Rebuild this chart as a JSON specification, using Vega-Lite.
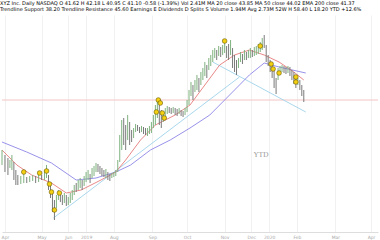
{
  "$schema": "https://vega.github.io/schema/vega-lite/v6.json",
  "width": 380,
  "height": 240,
  "autosize": {"type": "fit", "contains": "padding"},
  "padding": {"left": 0, "right": 0, "top": 1, "bottom": 1},
  "background": "white",
  "config": {"view": {"stroke": null}},
  "title": {
    "text": [
      "XYZ Inc. Daily  NASDAQ  O 41.62  H 42.18  L 40.95  C 41.10  -0.58 (-1.39%)  Vol 2.41M  MA 20 close 43.85  MA 50 close 44.02  EMA 200 close 41.37",
      "Trendline Support 38.20  Trendline Resistance 45.60  Earnings  E  Dividends  D  Splits  S  Volume 1.94M  Avg 2.73M  52W H 58.40  L 18.20  YTD +12.6%"
    ],
    "font": "DejaVu Sans",
    "fontSize": 5,
    "fontWeight": "normal",
    "lineHeight": 6,
    "color": "#000000",
    "anchor": "start",
    "offset": 3
  },
  "datasets": {
    "candles": [
      {"t": 0, "hi": 82, "lo": 67, "u": 1}, {"t": 3, "hi": 77, "lo": 60, "u": 0}, {"t": 6, "hi": 74, "lo": 57, "u": 0},
      {"t": 8, "hi": 72, "lo": 64, "u": 1}, {"t": 10, "hi": 77, "lo": 62, "u": 1}, {"t": 12, "hi": 70, "lo": 52, "u": 0},
      {"t": 14, "hi": 62, "lo": 47, "u": 0}, {"t": 16, "hi": 57, "lo": 47, "u": 0}, {"t": 19, "hi": 56, "lo": 48, "u": 1},
      {"t": 22, "hi": 58, "lo": 49, "u": 1}, {"t": 25, "hi": 55, "lo": 49, "u": 0}, {"t": 28, "hi": 56, "lo": 50, "u": 1},
      {"t": 31, "hi": 57, "lo": 51, "u": 1}, {"t": 34, "hi": 56, "lo": 49, "u": 0}, {"t": 37, "hi": 58, "lo": 50, "u": 1},
      {"t": 40, "hi": 57, "lo": 52, "u": 0}, {"t": 43, "hi": 62, "lo": 52, "u": 1}, {"t": 45, "hi": 67, "lo": 54, "u": 1},
      {"t": 47, "hi": 57, "lo": 42, "u": 0}, {"t": 49, "hi": 49, "lo": 34, "u": 0}, {"t": 51, "hi": 42, "lo": 20, "u": 0},
      {"t": 53, "hi": 32, "lo": 12, "u": 0}, {"t": 55, "hi": 37, "lo": 24, "u": 1}, {"t": 57, "hi": 42, "lo": 32, "u": 1},
      {"t": 59, "hi": 40, "lo": 30, "u": 0}, {"t": 61, "hi": 37, "lo": 27, "u": 0}, {"t": 63, "hi": 39, "lo": 29, "u": 1},
      {"t": 65, "hi": 37, "lo": 26, "u": 0}, {"t": 67, "hi": 35, "lo": 27, "u": 1}, {"t": 69, "hi": 39, "lo": 29, "u": 1},
      {"t": 71, "hi": 42, "lo": 32, "u": 1}, {"t": 73, "hi": 47, "lo": 37, "u": 1}, {"t": 75, "hi": 49, "lo": 40, "u": 0},
      {"t": 77, "hi": 52, "lo": 42, "u": 1}, {"t": 79, "hi": 54, "lo": 44, "u": 1}, {"t": 81, "hi": 52, "lo": 42, "u": 0},
      {"t": 83, "hi": 56, "lo": 46, "u": 1}, {"t": 85, "hi": 60, "lo": 50, "u": 1}, {"t": 87, "hi": 62, "lo": 52, "u": 1},
      {"t": 89, "hi": 58, "lo": 49, "u": 0}, {"t": 91, "hi": 64, "lo": 54, "u": 1}, {"t": 93, "hi": 66, "lo": 56, "u": 1},
      {"t": 95, "hi": 69, "lo": 60, "u": 1}, {"t": 97, "hi": 68, "lo": 60, "u": 0}, {"t": 99, "hi": 66, "lo": 58, "u": 0},
      {"t": 101, "hi": 64, "lo": 56, "u": 0}, {"t": 103, "hi": 62, "lo": 55, "u": 0}, {"t": 105, "hi": 63, "lo": 54, "u": 1},
      {"t": 107, "hi": 60, "lo": 52, "u": 0}, {"t": 109, "hi": 58, "lo": 51, "u": 0}, {"t": 111, "hi": 59, "lo": 54, "u": 1},
      {"t": 113, "hi": 60, "lo": 55, "u": 1}, {"t": 115, "hi": 62, "lo": 56, "u": 1}, {"t": 117, "hi": 72, "lo": 60, "u": 1},
      {"t": 119, "hi": 97, "lo": 70, "u": 1}, {"t": 121, "hi": 112, "lo": 82, "u": 1}, {"t": 123, "hi": 114, "lo": 87, "u": 0},
      {"t": 125, "hi": 107, "lo": 82, "u": 0}, {"t": 127, "hi": 117, "lo": 92, "u": 1}, {"t": 129, "hi": 110, "lo": 87, "u": 0},
      {"t": 131, "hi": 102, "lo": 90, "u": 0}, {"t": 133, "hi": 104, "lo": 94, "u": 1}, {"t": 135, "hi": 108, "lo": 100, "u": 1},
      {"t": 137, "hi": 107, "lo": 101, "u": 0}, {"t": 139, "hi": 105, "lo": 99, "u": 0}, {"t": 141, "hi": 106, "lo": 100, "u": 1},
      {"t": 143, "hi": 105, "lo": 98, "u": 0}, {"t": 145, "hi": 104, "lo": 97, "u": 0}, {"t": 147, "hi": 104, "lo": 96, "u": 1},
      {"t": 149, "hi": 106, "lo": 98, "u": 1}, {"t": 151, "hi": 110, "lo": 99, "u": 1}, {"t": 153, "hi": 117, "lo": 104, "u": 1},
      {"t": 155, "hi": 127, "lo": 107, "u": 1}, {"t": 157, "hi": 132, "lo": 114, "u": 1}, {"t": 159, "hi": 127, "lo": 107, "u": 0},
      {"t": 161, "hi": 122, "lo": 104, "u": 0}, {"t": 163, "hi": 120, "lo": 110, "u": 1}, {"t": 165, "hi": 124, "lo": 114, "u": 1},
      {"t": 167, "hi": 126, "lo": 118, "u": 1}, {"t": 169, "hi": 125, "lo": 119, "u": 0}, {"t": 171, "hi": 124, "lo": 118, "u": 0},
      {"t": 173, "hi": 125, "lo": 119, "u": 1}, {"t": 175, "hi": 124, "lo": 117, "u": 0}, {"t": 177, "hi": 123, "lo": 116, "u": 0},
      {"t": 179, "hi": 124, "lo": 118, "u": 1}, {"t": 181, "hi": 122, "lo": 116, "u": 0}, {"t": 183, "hi": 121, "lo": 115, "u": 0},
      {"t": 185, "hi": 124, "lo": 117, "u": 1}, {"t": 187, "hi": 132, "lo": 120, "u": 1}, {"t": 189, "hi": 142, "lo": 127, "u": 1},
      {"t": 191, "hi": 150, "lo": 136, "u": 1}, {"t": 193, "hi": 147, "lo": 132, "u": 0}, {"t": 195, "hi": 152, "lo": 140, "u": 1},
      {"t": 197, "hi": 157, "lo": 142, "u": 1}, {"t": 199, "hi": 154, "lo": 140, "u": 0}, {"t": 201, "hi": 160, "lo": 147, "u": 1},
      {"t": 203, "hi": 164, "lo": 152, "u": 1}, {"t": 205, "hi": 170, "lo": 156, "u": 1}, {"t": 207, "hi": 167, "lo": 154, "u": 0},
      {"t": 209, "hi": 174, "lo": 162, "u": 1}, {"t": 211, "hi": 177, "lo": 166, "u": 1}, {"t": 213, "hi": 182, "lo": 170, "u": 1},
      {"t": 215, "hi": 184, "lo": 174, "u": 1}, {"t": 217, "hi": 182, "lo": 172, "u": 0}, {"t": 219, "hi": 186, "lo": 176, "u": 1},
      {"t": 221, "hi": 185, "lo": 175, "u": 0}, {"t": 223, "hi": 187, "lo": 177, "u": 1}, {"t": 225, "hi": 189, "lo": 179, "u": 1},
      {"t": 227, "hi": 186, "lo": 174, "u": 0}, {"t": 229, "hi": 188, "lo": 172, "u": 0}, {"t": 231, "hi": 192, "lo": 177, "u": 1},
      {"t": 233, "hi": 184, "lo": 164, "u": 0}, {"t": 235, "hi": 177, "lo": 160, "u": 0}, {"t": 237, "hi": 172, "lo": 157, "u": 0},
      {"t": 239, "hi": 174, "lo": 164, "u": 1}, {"t": 241, "hi": 180, "lo": 170, "u": 1}, {"t": 243, "hi": 178, "lo": 168, "u": 0},
      {"t": 245, "hi": 182, "lo": 172, "u": 1}, {"t": 247, "hi": 180, "lo": 172, "u": 0}, {"t": 249, "hi": 182, "lo": 174, "u": 1},
      {"t": 251, "hi": 184, "lo": 174, "u": 1}, {"t": 253, "hi": 182, "lo": 175, "u": 0}, {"t": 255, "hi": 185, "lo": 176, "u": 1},
      {"t": 257, "hi": 186, "lo": 177, "u": 1}, {"t": 259, "hi": 188, "lo": 178, "u": 1}, {"t": 261, "hi": 190, "lo": 180, "u": 1},
      {"t": 263, "hi": 194, "lo": 182, "u": 1}, {"t": 265, "hi": 197, "lo": 184, "u": 0}, {"t": 267, "hi": 187, "lo": 170, "u": 0},
      {"t": 269, "hi": 177, "lo": 166, "u": 0}, {"t": 271, "hi": 172, "lo": 160, "u": 0}, {"t": 273, "hi": 170, "lo": 154, "u": 0},
      {"t": 275, "hi": 162, "lo": 144, "u": 0}, {"t": 277, "hi": 154, "lo": 138, "u": 0}, {"t": 279, "hi": 164, "lo": 152, "u": 1},
      {"t": 281, "hi": 166, "lo": 158, "u": 1}, {"t": 283, "hi": 167, "lo": 160, "u": 1}, {"t": 285, "hi": 166, "lo": 159, "u": 0},
      {"t": 287, "hi": 165, "lo": 158, "u": 0}, {"t": 289, "hi": 166, "lo": 159, "u": 1}, {"t": 291, "hi": 165, "lo": 156, "u": 0},
      {"t": 293, "hi": 162, "lo": 152, "u": 0}, {"t": 295, "hi": 160, "lo": 148, "u": 0}, {"t": 297, "hi": 157, "lo": 144, "u": 0},
      {"t": 299, "hi": 154, "lo": 147, "u": 1}, {"t": 301, "hi": 152, "lo": 142, "u": 0}, {"t": 303, "hi": 147, "lo": 136, "u": 0},
      {"t": 305, "hi": 142, "lo": 130, "u": 0}
    ],
    "lines": [
      {"s": "ma20", "t": 0, "p": 82}, {"s": "ma20", "t": 15, "p": 67}, {"s": "ma20", "t": 30, "p": 57}, {"s": "ma20", "t": 50, "p": 49},
      {"s": "ma20", "t": 65, "p": 39}, {"s": "ma20", "t": 80, "p": 42}, {"s": "ma20", "t": 100, "p": 52}, {"s": "ma20", "t": 115, "p": 60},
      {"s": "ma20", "t": 125, "p": 72}, {"s": "ma20", "t": 140, "p": 92}, {"s": "ma20", "t": 155, "p": 107}, {"s": "ma20", "t": 175, "p": 117},
      {"s": "ma20", "t": 190, "p": 127}, {"s": "ma20", "t": 205, "p": 147}, {"s": "ma20", "t": 220, "p": 167}, {"s": "ma20", "t": 235, "p": 177},
      {"s": "ma20", "t": 250, "p": 182}, {"s": "ma20", "t": 265, "p": 177}, {"s": "ma20", "t": 280, "p": 170}, {"s": "ma20", "t": 295, "p": 160},
      {"s": "ma20", "t": 305, "p": 152},
      {"s": "ma200", "t": 0, "p": 90}, {"s": "ma200", "t": 25, "p": 80}, {"s": "ma200", "t": 50, "p": 69}, {"s": "ma200", "t": 75, "p": 52},
      {"s": "ma200", "t": 95, "p": 54}, {"s": "ma200", "t": 115, "p": 60}, {"s": "ma200", "t": 130, "p": 67}, {"s": "ma200", "t": 150, "p": 82},
      {"s": "ma200", "t": 170, "p": 92}, {"s": "ma200", "t": 190, "p": 104}, {"s": "ma200", "t": 210, "p": 117}, {"s": "ma200", "t": 230, "p": 137},
      {"s": "ma200", "t": 250, "p": 157}, {"s": "ma200", "t": 265, "p": 169}, {"s": "ma200", "t": 280, "p": 165}, {"s": "ma200", "t": 307, "p": 159},
      {"s": "up", "t": 52, "p": 14}, {"s": "up", "t": 240, "p": 155},
      {"s": "down", "t": 213, "p": 170}, {"s": "down", "t": 307, "p": 120},
      {"s": "level", "t": 0, "p": 132}, {"s": "level", "t": 380, "p": 132}
    ],
    "events": [
      {"t": 22, "p": 60}, {"t": 38, "p": 59}, {"t": 45, "p": 61}, {"t": 48, "p": 48}, {"t": 50, "p": 40},
      {"t": 58, "p": 39}, {"t": 53, "p": 22}, {"t": 158, "p": 132}, {"t": 160, "p": 129}, {"t": 156, "p": 120},
      {"t": 162, "p": 119}, {"t": 164, "p": 114}, {"t": 225, "p": 191}, {"t": 261, "p": 186}, {"t": 272, "p": 168},
      {"t": 274, "p": 163}, {"t": 280, "p": 159}, {"t": 297, "p": 155}, {"t": 297, "p": 150}
    ],
    "notes": [{"t": 262, "p": 77, "label": "YTD"}]
  },
  "encoding": {
    "x": {
      "field": "t",
      "type": "quantitative",
      "scale": {"domain": [0, 380], "nice": false, "zero": false},
      "axis": {
        "title": null,
        "values": [3, 40, 67, 85, 113, 152, 187, 225, 252, 270, 298, 337, 373],
        "labelExpr": "{'3':'Apr','40':'May','67':'Jun','85':'2019','113':'Aug','152':'Sep','187':'Oct','225':'Nov','252':'Dec','270':'2020','298':'Feb','337':'Mar','373':'Apr'}[datum.value + '']",
        "labelFontSize": 4.5,
        "labelColor": "#aaaaaa",
        "labelFont": "DejaVu Sans",
        "labelPadding": 2,
        "ticks": false,
        "domain": true,
        "domainColor": "#dddddd",
        "grid": true,
        "gridColor": "#f1f1f1",
        "labelFlush": false
      }
    }
  },
  "layer": [
    {
      "data": {"name": "lines"},
      "transform": [{"filter": "datum.s === 'level'"}],
      "mark": {"type": "line", "color": "#f3c4c4", "strokeWidth": 1},
      "encoding": {
        "y": {
          "field": "p",
          "type": "quantitative",
          "scale": {"domain": [0, 217], "nice": false, "zero": false},
          "axis": {"title": null, "orient": "right", "labels": false, "ticks": false, "domain": false, "grid": true, "gridColor": "#f4f4f4", "tickCount": 16}
        }
      }
    },
    {
      "data": {"name": "lines"},
      "transform": [{"filter": "datum.s === 'up' || datum.s === 'down'"}],
      "mark": {"type": "line", "color": "#9fd2ea", "strokeWidth": 0.9},
      "encoding": {"y": {"field": "p", "type": "quantitative", "axis": null}, "detail": {"field": "s"}}
    },
    {
      "data": {"name": "lines"},
      "transform": [{"filter": "datum.s === 'ma200'"}],
      "mark": {"type": "line", "color": "#8c86e6", "strokeWidth": 0.9},
      "encoding": {"y": {"field": "p", "type": "quantitative", "axis": null}}
    },
    {
      "data": {"name": "lines"},
      "transform": [{"filter": "datum.s === 'ma20'"}],
      "mark": {"type": "line", "color": "#e57a7a", "strokeWidth": 0.9},
      "encoding": {"y": {"field": "p", "type": "quantitative", "axis": null}}
    },
    {
      "data": {"name": "candles"},
      "mark": {"type": "rule", "strokeWidth": 1},
      "encoding": {
        "y": {"field": "lo", "type": "quantitative", "axis": null},
        "y2": {"field": "hi"},
        "color": {"field": "u", "type": "nominal", "scale": {"domain": [0, 1], "range": ["#7a7a7a", "#7fb27f"]}, "legend": null}
      }
    },
    {
      "data": {"name": "events"},
      "mark": {"type": "point", "filled": true, "fill": "#f3cf11", "stroke": "#6b5a00", "strokeWidth": 0.6, "size": 22, "opacity": 1},
      "encoding": {"y": {"field": "p", "type": "quantitative", "axis": null}}
    },
    {
      "data": {"name": "notes"},
      "mark": {"type": "text", "font": "DejaVu Serif", "fontSize": 7, "color": "#9a9a9a"},
      "encoding": {"y": {"field": "p", "type": "quantitative", "axis": null}, "text": {"field": "label"}}
    }
  ]
}
